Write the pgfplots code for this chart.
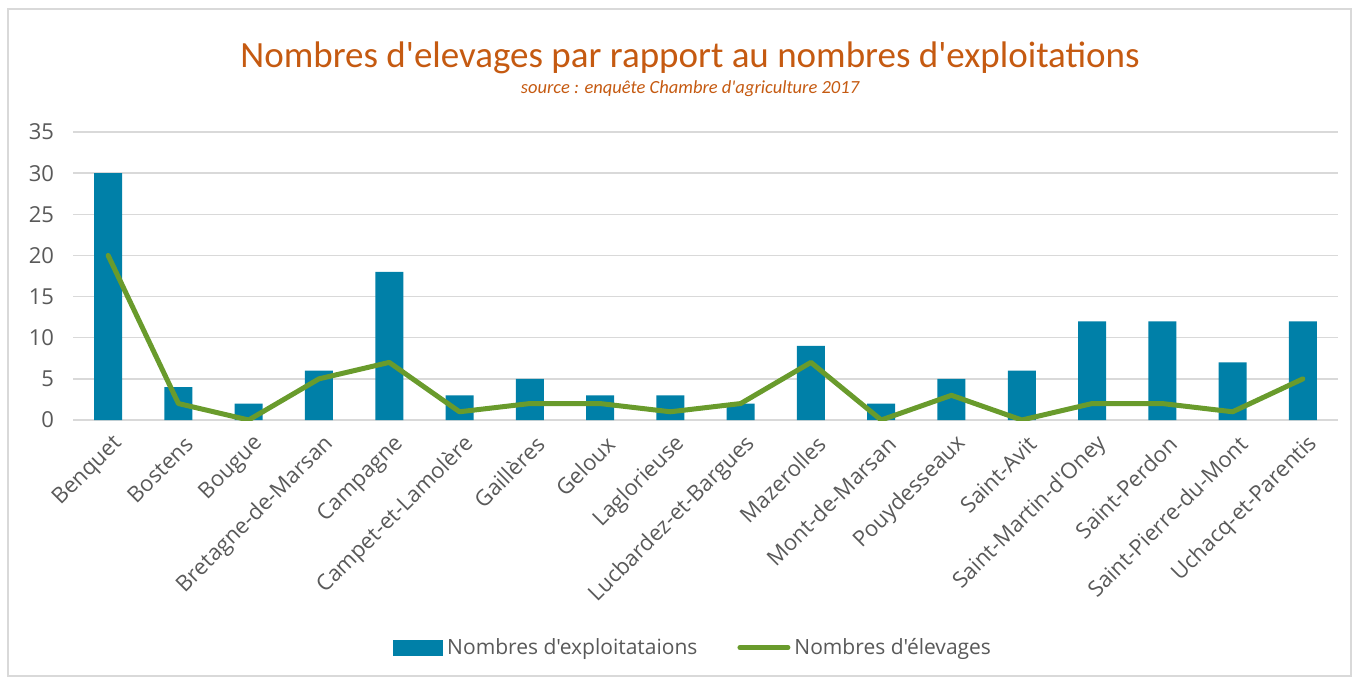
\documentclass[border=0pt]{standalone}
\usepackage{pgfplots}
\pgfplotsset{compat=1.18}
\usepackage{fontspec}
\setmainfont{Open Sans}[Ligatures=TeXOff]
\newfontfamily\titlefont{Carlito}[Ligatures=TeXOff]
\definecolor{barblue}{HTML}{0080A8}
\definecolor{linegreen}{HTML}{699B2C}
\definecolor{titleorange}{HTML}{C55A11}
\definecolor{txtgray}{HTML}{595959}
\definecolor{gridgray}{HTML}{D9D9D9}
\begin{document}
\begin{tikzpicture}
\path[use as bounding box] (-36.5pt,-130pt) rectangle (643pt,210pt);
\draw[gridgray, line width=1pt] (-32.5pt,-128pt) rectangle (639pt,205.5pt);
\begin{axis}[scale only axis, width=632.5pt, height=144pt,
    xmin=-0.5, xmax=17.5, ymin=0, ymax=35, ytick={0,5,...,35},
    xtick=data,
    xticklabels={Benquet,Bostens,Bougue,Bretagne-de-Marsan,Campagne,Campet-et-Lamolère,Gaillères,Geloux,Laglorieuse,Lucbardez-et-Bargues,Mazerolles,Mont-de-Marsan,Pouydesseaux,Saint-Avit,Saint-Martin-d'Oney,Saint-Perdon,Saint-Pierre-du-Mont,Uchacq-et-Parentis},
    axis line style={draw=none}, major tick length=0pt,
    ymajorgrids, grid style={gridgray, line width=0.75pt},
    /pgf/number format/assume math mode=true,
    tick label style={font=\fontsize{11}{13}\selectfont, text=txtgray},
    yticklabel style={xshift=-6pt},
    xticklabel style={rotate=45, anchor=east, yshift=-11pt, xshift=0pt},
    legend style={at={(0.491,-0.79)}, anchor=center, draw=none, legend columns=2,
        font=\fontsize{10.5}{12}\selectfont, text=txtgray,
        /tikz/every even column/.append style={column sep=18pt}},
    legend cell align=left]
\addplot[ybar, bar width=14pt, fill=barblue, draw=none,
    legend image code/.code={\fill[barblue] (0pt,-4pt) rectangle (25pt,4pt);}]
    coordinates {(0,30) (1,4) (2,2) (3,6) (4,18) (5,3) (6,5) (7,3) (8,3) (9,2) (10,9) (11,2) (12,5) (13,6) (14,12) (15,12) (16,7) (17,12)};
\addlegendentry{Nombres d'exploitataions}
\addplot[linegreen, line width=2.5pt, mark=none, line join=round, line cap=round,
    legend image code/.code={\draw[linegreen, line width=2.5pt, line cap=round] (0pt,0pt) -- (24pt,0pt);}]
    coordinates {(0,20) (1,2) (2,0) (3,5) (4,7) (5,1) (6,2) (7,2) (8,1) (9,2) (10,7) (11,0) (12,3) (13,0) (14,2) (15,2) (16,1) (17,5)};
\addlegendentry{Nombres d'élevages}
\end{axis}
\node[text=titleorange, font=\titlefont\fontsize{18.5}{22}\selectfont] at (308.5pt,181pt) {Nombres d'elevages par rapport au nombres d'exploitations};
\node[text=titleorange, font=\titlefont\fontsize{9.25}{11}\selectfont\itshape] at (308.5pt,165.5pt) {source : enquête Chambre d'agriculture 2017};
\end{tikzpicture}
\end{document}
